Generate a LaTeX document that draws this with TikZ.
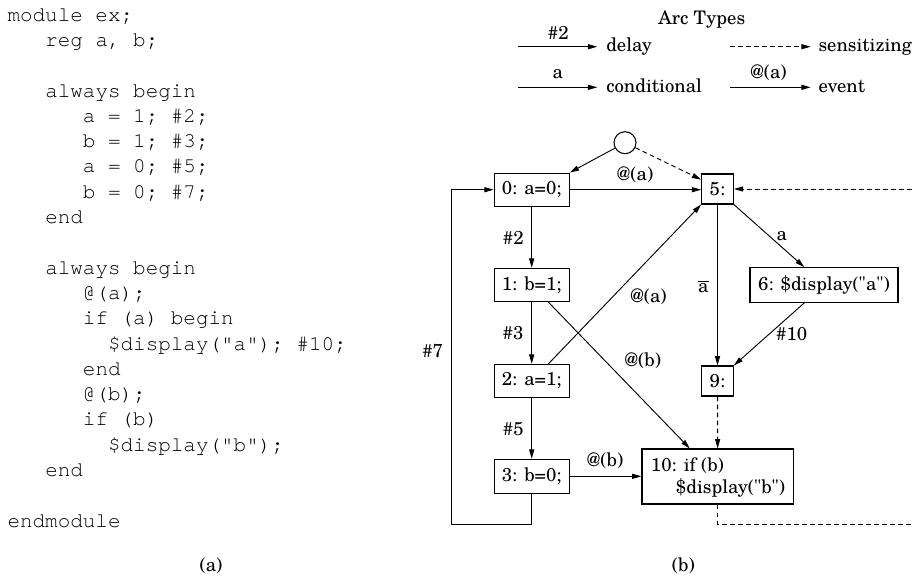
\documentclass[tikz,border=0pt]{standalone}
\usepackage{fontspec}
\setmainfont{TeX Gyre Schola}[Ligatures=TeXOff]
\setmonofont{TeX Gyre Cursor}
\usetikzlibrary{arrows.meta,calc}
\tikzset{
  box/.style={draw, line width=0.8pt, inner sep=0pt, minimum width=56.25pt, minimum height=25pt, font=\fontsize{14}{16}\selectfont},
  sbox/.style={box, minimum width=23.7pt, minimum height=22.5pt},
  lbl/.style={inner sep=0pt, font=\fontsize{14}{16}\selectfont},
  code/.style={anchor=base west, inner sep=0pt, font=\fontsize{15.7}{19}\selectfont\ttfamily},
  arc/.style={line width=0.7pt, -{Triangle[length=7pt,width=3.8pt]}},
  sens/.style={arc, dash pattern=on 3.5pt off 2.5pt},
}
\newcommand\codeline[4]{\node[code] (#1) at ({7.3+12.57*#2},{21.1+25.3*#3}) {#4};}
\begin{document}
\begin{tikzpicture}[x=0.75pt, y=-0.75pt]
\useasboundingbox (0,0) rectangle (912,576);
% ---- code listing
\codeline{c0}{0}{0}{module ex;}
\codeline{c1}{3}{1}{reg a, b;}
\codeline{c3}{3}{3}{always begin}
\codeline{c4}{6}{4}{a = 1; \#2;}
\codeline{c5}{6}{5}{b = 1; \#3;}
\codeline{c6}{6}{6}{a = 0; \#5;}
\codeline{c7}{6}{7}{b = 0; \#7;}
\codeline{c8}{3}{8}{end}
\codeline{c10}{3}{10}{always begin}
\codeline{c11}{6}{11}{@(a);}
\codeline{c12}{6}{12}{if (a) begin}
\codeline{c13}{8}{13}{\$display("a"); \#10;}
\codeline{c14}{6}{14}{end}
\codeline{c15}{6}{15}{@(b);}
\codeline{c16}{6}{16}{if (b)}
\codeline{c17}{8}{17}{\$display("b");}
\codeline{c18}{3}{18}{end}
\codeline{c20}{0}{20}{endmodule}
\node[lbl] (capa) at (211,566) {(a)};
\node[lbl] (capb) at (683.3,566) {(b)};
% ---- legend
\node[lbl] (title) at (701.7,20) {Arc Types};
\coordinate (d1) at (518.3,46.7); \coordinate (d2) at (597.3,46.7);
\coordinate (s1) at (730,46.7);   \coordinate (s2) at (810.7,46.7);
\coordinate (k1) at (518.3,87.3); \coordinate (k2) at (597.3,87.3);
\coordinate (e1) at (730,87.3);   \coordinate (e2) at (810.7,87.3);
\draw[arc] (d1) -- (d2);
\draw[sens] (s1) -- (s2);
\draw[arc] (k1) -- (k2);
\draw[arc] (e1) -- (e2);
\node[lbl, anchor=base] (ld) at (558.3,39.3) {\#2};
\node[lbl, anchor=base west] (tdelay) at (606,51.7) {delay};
\node[lbl, anchor=base west] (tsens) at (818.3,51.7) {sensitizing};
\node[lbl, anchor=base] (lk) at (557.7,78) {a};
\node[lbl, anchor=base west] (tcond) at (606,92.3) {conditional};
\node[lbl, anchor=base] (le) at (768.3,78) {@(a)};
\node[lbl, anchor=base west] (tevent) at (818.3,92.3) {event};
% ---- graph nodes
\node[box] (b0) at (531.7,189.7) {0: a=0;};
\node[sbox] (b5) at (717.5,189) {5:};
\node[box] (b1) at (531.7,285) {1: b=1;};
\node[box, minimum width=111pt, minimum height=26pt] (b6) at (824,285) {6: \$display("a")};
\node[box] (b2) at (531.7,381) {2: a=1;};
\node[sbox] (b9) at (717.5,381) {9:};
\node[box, minimum height=25.5pt] (b3) at (531.7,476.3) {3: b=0;};
\node[box, minimum width=113.6pt, minimum height=41.25pt] (b10) at (717.7,476.5) {};
\node[lbl, anchor=base west] (t10a) at (650.7,471.7) {10: if (b)};
\node[lbl, anchor=base west] (t10b) at (675.7,493.3) {\$display("b")};
\node[draw, circle, line width=0.8pt, minimum size=16.5pt, inner sep=0pt] (c) at (625,142.7) {};
\coordinate (lp) at (451.7,524);
\coordinate (rb) at (912,524);
\coordinate (rt) at (912,189);
% ---- connectors
\draw[arc] (c) -- (b0.north east);
\draw[sens] (c) -- (b5.150);
\draw[arc] (b0.east) -- (b0.east -| b5.west);
\draw[arc] (b0) -- (b1);
\draw[arc] (b1) -- (b2);
\draw[arc] (b2) -- (b3);
\draw[arc] (b3.south) |- (lp) |- (b0.west);
\draw[arc] (b3.east) -- (b3.east -| b10.west);
\draw[arc] ($(b1.south west)!0.72!(b1.south east)$) -- ($(b10.north west)!0.317!(b10.north east)$);
\draw[arc] ($(b2.north west)!0.72!(b2.north east)$) -- (b5.south west);
\draw[arc] (b5.south east) -- ($(b6.north west)!0.368!(b6.north east)$);
\draw[arc] (b5) -- (b9);
\draw[arc] ($(b6.south west)!0.368!(b6.south east)$) -- (b9.north east);
\draw[sens] (b9) -- (b10);
\draw[sens, -] (b10.south) |- (rb);
\draw[sens] (rt) -- (b5.east);
% ---- labels
\node[lbl] (l0) at (635,174.3) {@(a)};
\node[lbl] (l2) at (513.3,238.3) {\#2};
\node[lbl] (la) at (781.7,236) {a};
\node[lbl] (lna) at (703.3,286.7) {$\overline{\mbox{a}}$};
\node[lbl] (l25) at (648.3,296.7) {@(a)};
\node[lbl] (l3) at (513,333) {\#3};
\node[lbl] (l7) at (432.7,351) {\#7};
\node[lbl] (l10) at (791.7,334.3) {\#10};
\node[lbl] (l110) at (642.7,360.7) {@(b)};
\node[lbl] (l5) at (513.3,429.3) {\#5};
\node[lbl] (l310) at (605,461) {@(b)};
\end{tikzpicture}
\end{document}
